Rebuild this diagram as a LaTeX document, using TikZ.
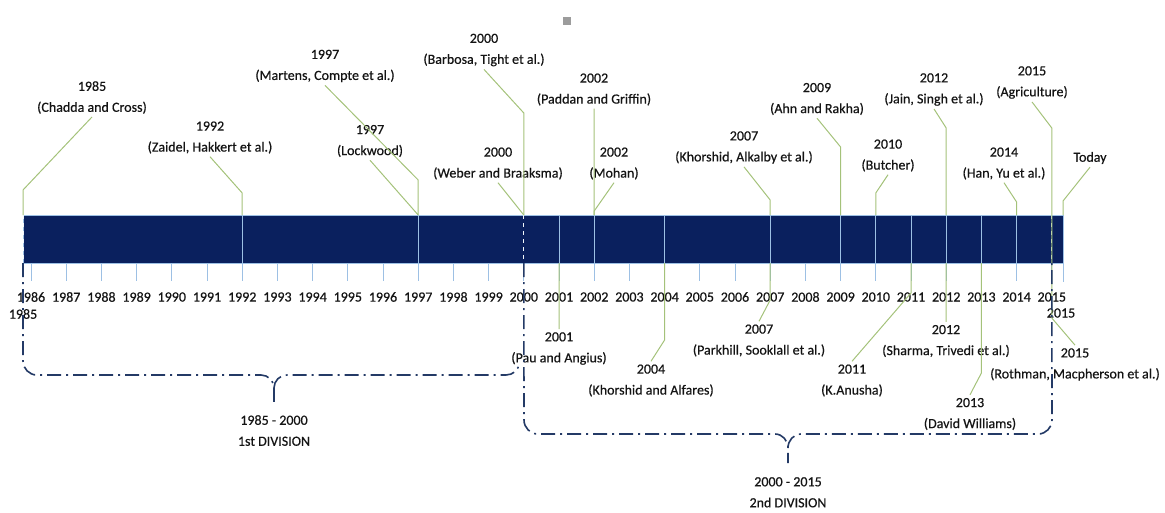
\documentclass[tikz,border=0pt]{standalone}
\usepackage{fontspec}
\setmainfont{Carlito}[FakeBold=0.5]
\usepackage{tikz}
\usetikzlibrary{positioning,calc}
\definecolor{Navy}{HTML}{0A205E}
\definecolor{BarEdge}{HTML}{9DC0E4}
\definecolor{Leaf}{HTML}{A4C27A}
\definecolor{BraceInk}{HTML}{243A66}
\definecolor{Ink}{HTML}{141414}
\definecolor{Handle}{HTML}{9C9C9C}
\tikzset{
  event/.style={align=center, font=\fontsize{14}{21}\selectfont, text=Ink, inner sep=3pt},
  yearlbl/.style={font=\fontsize{14}{17}\selectfont, text=Ink, inner sep=1pt},
  leader/.style={draw=Leaf, line width=1pt},
  divider/.style={draw=BarEdge, line width=1pt},
  tickline/.style={draw=BarEdge, line width=1pt},
  barcut/.style={draw=white!85!BarEdge, line width=1pt, dash pattern=on 4pt off 4pt},
  division/.style={draw=BraceInk, line width=1.6pt, dash pattern=on 14pt off 5pt on 2pt off 5pt}
}

\begin{document}
\begin{tikzpicture}[x=1pt, y=-1pt]
  \useasboundingbox (0,0) rectangle (1165,512);

  % the time bar
  \node[draw=BarEdge, fill=Navy, line width=1pt, minimum width=1040pt, minimum height=48pt,
        inner sep=0pt, anchor=north west] (bar) at (23,215) {};
  \node[fill=Handle, minimum size=8pt, inner sep=0pt] (handle) at (567,21) {};

  \coordinate (t1985) at (23,215);
  \coordinate (b1985) at (23,263);
  \coordinate (tToday) at (1063,215);
  \coordinate (bToday) at (1063,263);

  \foreach \yr in {1986,...,2015}{
    \coordinate (t\yr) at ({31+(\yr-1986)*35.2},215);
    \coordinate (b\yr) at ({31+(\yr-1986)*35.2},263);
    \draw[tickline] (b\yr) -- ++(0,18);
    \node[yearlbl] (y\yr) at ({31+(\yr-1986)*35.2},297) {\yr};
  }
  \draw[tickline] (bToday) -- ++(0,19);
  \node[yearlbl] (y1985) at (23,314) {1985};
  \node[yearlbl] (yToday) at (1061,313) {2015};

  \foreach \yr in {1992,1997,2001,2002,2004,2007,2009,2010,2011,2012,2013,2014}
    \draw[divider] (t\yr) -- (b\yr);
  \draw[barcut] (t1985) -- (b1985);
  \draw[barcut] (t2000) -- (b2000);
  \draw[barcut] (t2015) -- (b2015);

  % events above the bar
  \node[event] (chadda) at (92,97.5) {1985\\(Chadda and Cross)};
  \node[event] (zaidel) at (210,137.5) {1992\\(Zaidel, Hakkert et al.)};
  \node[event] (martens) at (325,66) {1997\\(Martens, Compte et al.)};
  \node[event] (lockwood) at (370,141) {1997\\(Lockwood)};
  \node[event] (barbosa) at (484,50) {2000\\(Barbosa, Tight et al.)};
  \node[event] (weber) at (498,163.5) {2000\\(Weber and Braaksma)};
  \node[event] (paddan) at (594,89.5) {2002\\(Paddan and Griffin)};
  \node[event] (mohan) at (614,163.5) {2002\\(Mohan)};
  \node[event] (khorshidA) at (744,147.5) {2007\\(Khorshid, Alkalby et al.)};
  \node[event] (ahn) at (817,99) {2009\\(Ahn and Rakha)};
  \node[event] (butcher) at (888,155.5) {2010\\(Butcher)};
  \node[event] (jain) at (934,89.5) {2012\\(Jain, Singh et al.)};
  \node[event] (han) at (1004,163.5) {2014\\(Han, Yu et al.)};
  \node[event] (agri) at (1032,82.5) {2015\\(Agriculture)};
  \node[event] (today) at (1090,158) {Today};

  % events below the bar
  \node[event] (pau) at (559,348.5) {2001\\(Pau and Angius)};
  \node[event] (khorshidB) at (651,380.5) {2004\\(Khorshid and Alfares)};
  \node[event] (parkhill) at (759,340.5) {2007\\(Parkhill, Sooklall et al.)};
  \node[event] (anusha) at (852,380.5) {2011\\(K.Anusha)};
  \node[event] (sharma) at (946,341) {2012\\(Sharma, Trivedi et al.)};
  \node[event] (williams) at (970,414) {2013\\(David Williams)};
  \node[event] (rothman) at (1075,364.5) {2015\\(Rothman, Macpherson et al.)};

  \draw[leader] (chadda.south) -- ([yshift=25pt]t1985) -- (t1985);
  \draw[leader] (zaidel.south) -- ([yshift=22pt]t1992) -- (t1992);
  \draw[leader] (martens.south) -- ([yshift=35pt]t1997) -- (t1997);
  \draw[leader] (lockwood.south) -- (t1997);
  \draw[leader] (barbosa.south) -- ([yshift=102pt]t2000) -- (t2000);
  \draw[leader] (weber.south) -- (t2000);
  \draw[leader] (paddan.south) -- (t2002);
  \draw[leader] (mohan.south) -- ([yshift=4pt]t2002) -- (t2002);
  \draw[leader] (khorshidA.south) -- ([yshift=15pt]t2007) -- (t2007);
  \draw[leader] (ahn.south) -- ([yshift=68pt]t2009) -- (t2009);
  \draw[leader] (butcher.south) -- ([yshift=22pt]t2010) -- (t2010);
  \draw[leader] (jain.south) -- ([yshift=87pt]t2012) -- (t2012);
  \draw[leader] (han.south) -- ([yshift=13pt]t2014) -- (t2014);
  \draw[leader] (agri.south) -- ([yshift=87pt]t2015) -- (t2015);
  \draw[leader] (today.south) -- ([yshift=14pt]tToday) -- (tToday);

  \draw[leader] (b2001) -- (pau.north);
  \draw[leader] (b2004) -- ([yshift=-77pt]b2004) -- (khorshidB.north);
  \draw[leader] (b2007) -- ([yshift=-37pt]b2007) -- (parkhill.north);
  \draw[leader] (b2011) -- ([yshift=-30pt]b2011) -- (anusha.north);
  \draw[leader] (b2012) -- (sharma.north);
  \draw[leader] (b2013) -- ([yshift=-110pt]b2013) -- (williams.north);
  \draw[leader] (t2015) -- (b2015) -- ([yshift=-55pt]b2015) -- (rothman.north);

  % the two divisions
  \coordinate (tip1) at (274,402);
  \coordinate (tip2) at (788,463);
  \draw[division] (b1985) -- (23,361) to[out=-90,in=180] (37,375) -- (261,375)
    to[out=0,in=90] (274,388) -- (tip1);
  \draw[division] (274,388) to[out=90,in=180] (287,375) -- (506,375) to[out=0,in=-90] (519,363);
  \draw[division] (b2000) -- (524,420) to[out=-90,in=180] (538,434) -- (775,434)
    to[out=0,in=90] (788,448) -- (tip2);
  \draw[division] (788,448) to[out=90,in=180] (801,434) -- (1038,434) to[out=0,in=-90] (1052,420) -- (b2015);
  \node[event, below=10pt of tip1] (first) {1985 - 2000\\1st DIVISION};
  \node[event, below=11pt of tip2] (second) {2000 - 2015\\2nd DIVISION};
\end{tikzpicture}
\end{document}
